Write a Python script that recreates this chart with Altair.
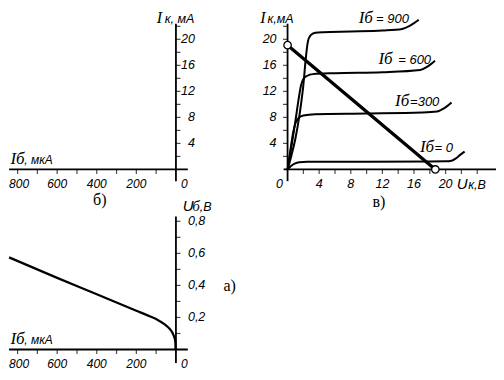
import altair as alt
import pandas as pd

# ---------------- data ----------------
# base current axis (µA), drawn right-to-left in panels б) and а)
ib_labels = [800, 600, 400, 200]
ib_ticks = [100, 200, 300, 400, 500, 600, 700, 800]
# collector current axis (mA)
ik_labels = [4, 8, 12, 16, 20]
ik_ticks = [2, 4, 6, 8, 10, 12, 14, 16, 18, 20, 22]
# collector voltage axis (V)
uk_labels = [4, 8, 12, 16, 20]
uk_ticks = [2, 4, 6, 8, 10, 12, 14, 16, 18, 20, 22, 24]
# base voltage axis (V)
ub_labels = [0.2, 0.4, 0.6, 0.8]
ub_label_text = ["0,2", "0,4", "0,6", "0,8"]
ub_ticks = [0.1, 0.2, 0.3, 0.4, 0.5, 0.6, 0.7, 0.8]

# axis line extents (data units)
ib_extent = [843, -60]
ik_extent = [-1.8, 22.4]
uk_extent = [-0.5, 26.4]
ub_extent = [-0.085, 0.83]

# output characteristics Iк(Uк) for Iб = 900, 600, 300, 0 µA
uk_900 = [0, 0.5, 1.0, 1.5, 2.0, 2.3, 2.55, 2.9, 3.5, 4.5, 8, 12, 14.5, 15.5, 16.6]
ik_900 = [0, 2.2, 4.8, 8.3, 13.0, 17.0, 19.5, 20.6, 21.0, 21.1, 21.2, 21.35, 21.6, 22.1, 23.0]
uk_600 = [0, 0.5, 1.0, 1.4, 1.7, 2.0, 2.5, 3.2, 6, 12, 16.8, 17.7, 18.66]
ik_600 = [0, 3.6, 7.5, 10.8, 12.9, 13.9, 14.4, 14.65, 14.8, 14.95, 15.3, 15.8, 16.7]
uk_300 = [0, 0.35, 0.7, 1.0, 1.4, 2.0, 3.5, 10, 17, 18.9, 19.8, 20.75]
ik_300 = [0, 2.9, 5.6, 7.1, 7.9, 8.3, 8.5, 8.6, 8.75, 8.9, 9.4, 10.3]
uk_0 = [0, 0.4, 0.9, 1.5, 2.5, 10, 20.0, 20.75, 21.3, 21.8, 22.4]
ik_0 = [0, 0.5, 0.9, 1.1, 1.17, 1.2, 1.25, 1.35, 1.7, 2.2, 2.75]

# load line with its end points
load_uk = [0, 18.7]
load_ik = [19.1, 0]

# curve labels "Iб = ..."
curve_ib = ["= 900", "= 600", "=300", "= 0"]
lab_uk = [9.0, 11.5, 13.6, 16.75]
lab_val_uk = [11.2, 14.0, 15.5, 18.6]
lab_ik = [22.5, 16.24, 9.77, 2.7]

# input characteristic Uб(Iб)
ib_in = [2, 2.5, 4, 8, 14, 24, 38, 60, 90, 130, 200, 400, 600, 843]
ub_in = [0, 0.03, 0.055, 0.075, 0.095, 0.117, 0.137, 0.16, 0.183, 0.206, 0.242, 0.345, 0.447, 0.575]

# ---------------- layout ----------------
W, H = 488, 364                 # whole canvas, fits the 504x380 page with its 8px margin
LX, RX, BY, TY = 6, 500, 379, 7  # reference-picture coordinates covered by the canvas


def make_scale(v1, p1, v2, p2, lo, hi):
    k = (v2 - v1) / (p2 - p1)
    a = v1 + (lo - p1) * k
    b = v1 + (hi - p1) * k
    return alt.Scale(domain=[min(a, b), max(a, b)], reverse=bool(a > b), nice=False, zero=False)


# panel б) : Iб (right-to-left) vs Iк
xs_b = make_scale(0, 176, 800, 15.7, LX, RX)
ys_b = make_scale(0, 172, 20, 39, BY, TY)
# panel в) : Uк vs Iк
xs_v = make_scale(0, 289, 20, 449, LX, RX)
ys_v = make_scale(0, 172, 20, 39, BY, TY)
# panel а) : Iб (right-to-left) vs Uб
xs_a = make_scale(0, 176, 800, 15.7, LX, RX)
ys_a = make_scale(0, 356, 0.8, 225, BY, TY)

SANS = "Liberation Sans"
SERIF = "Liberation Serif"


def enc(xs, ys, xf="x", yf="y"):
    return dict(x=alt.X(f"{xf}:Q", scale=xs, axis=None), y=alt.Y(f"{yf}:Q", scale=ys, axis=None))


def hrule(xs, ys, x1, x2, y, sw=1.8):
    df = pd.DataFrame({"x": [x1], "x2": [x2], "y": [y]})
    return alt.Chart(df).mark_rule(color="black", strokeWidth=sw, strokeCap="butt").encode(
        x2="x2:Q", **enc(xs, ys))


def vrule(xs, ys, x, y1, y2, sw=1.8):
    df = pd.DataFrame({"x": [x], "y": [y1], "y2": [y2]})
    return alt.Chart(df).mark_rule(color="black", strokeWidth=sw, strokeCap="butt").encode(
        y2="y2:Q", **enc(xs, ys))


def ticks(xs, ys, xv, yv, orient, xoff=0, yoff=0, size=4.5):
    df = pd.DataFrame({"x": xv, "y": yv})
    return alt.Chart(df).mark_tick(color="black", orient=orient, size=size, thickness=1.2,
                                   xOffset=xoff, yOffset=yoff).encode(**enc(xs, ys))


def texts(xs, ys, xv, yv, tv, font=SANS, size=12.5, style="italic", align="center",
          baseline="middle", dx=0, dy=0):
    df = pd.DataFrame({"x": xv, "y": yv, "t": tv})
    return alt.Chart(df).mark_text(font=font, fontSize=size, fontStyle=style, align=align,
                                   baseline=baseline, dx=dx, dy=dy, color="black").encode(
        text="t:N", **enc(xs, ys))


def line(xs, ys, xv, yv, sw=2.0, order_desc=False, interp="monotone"):
    df = pd.DataFrame({"x": xv, "y": yv})
    e = enc(xs, ys)
    if order_desc:
        e["order"] = alt.Order("x:Q", sort="descending")
    return alt.Chart(df).mark_line(color="black", strokeWidth=sw, interpolate=interp).encode(**e)


def ib_axis_labels(xs, ys, dy):
    # the leftmost label sits against the picture edge
    return [
        texts(xs, ys, ib_labels[:1], [0], [str(ib_labels[0])], size=12, dy=dy, dx=1.5),
        texts(xs, ys, ib_labels[1:], [0] * (len(ib_labels) - 1), [str(v) for v in ib_labels[1:]],
              size=12, dy=dy),
    ]


# ---------- panel б) ----------
panel_b = alt.layer(
    vrule(xs_b, ys_b, 0, ik_extent[0], ik_extent[1]),
    hrule(xs_b, ys_b, ib_extent[0], ib_extent[1], 0),
    ticks(xs_b, ys_b, [0] * len(ik_ticks), ik_ticks, "horizontal", xoff=2.3),
    ticks(xs_b, ys_b, ib_ticks, [0] * len(ib_ticks), "vertical", yoff=2.3),
    texts(xs_b, ys_b, [0] * len(ik_labels), ik_labels, [str(v) for v in ik_labels], align="right", dx=19),
    *ib_axis_labels(xs_b, ys_b, 15),
    texts(xs_b, ys_b, [0], [0], ["0"], size=12, dx=8.5, dy=15),
    texts(xs_b, ys_b, [97], [22.55], ["I"], font=SERIF, size=16, align="left", baseline="alphabetic"),
    texts(xs_b, ys_b, [57], [22.55], ["к, мА"], size=12.5, align="left", baseline="alphabetic"),
    texts(xs_b, ys_b, [836], [0.83], ["Iб"], font=SERIF, size=17, align="left", baseline="alphabetic"),
    texts(xs_b, ys_b, [766], [0.83], [", мкА"], size=12, align="left", baseline="alphabetic"),
    texts(xs_b, ys_b, [419], [-5.4], ["б)"], font=SERIF, size=16, style="normal", align="left",
          baseline="alphabetic"),
)

# ---------- panel в) ----------
out_lines = [
    line(xs_v, ys_v, uk_900, ik_900),
    line(xs_v, ys_v, uk_600, ik_600),
    line(xs_v, ys_v, uk_300, ik_300),
    line(xs_v, ys_v, uk_0, ik_0),
]
panel_v = alt.layer(
    vrule(xs_v, ys_v, 0, ik_extent[0], ik_extent[1]),
    hrule(xs_v, ys_v, uk_extent[0], uk_extent[1], 0),
    ticks(xs_v, ys_v, [0] * len(ik_ticks), ik_ticks, "horizontal", xoff=-2.3),
    ticks(xs_v, ys_v, uk_ticks, [0] * len(uk_ticks), "vertical", yoff=2.3),
    texts(xs_v, ys_v, [0] * len(ik_labels), ik_labels, [str(v) for v in ik_labels], align="right", dx=-11),
    texts(xs_v, ys_v, uk_labels, [0] * len(uk_labels), [str(v) for v in uk_labels], dy=14.5),
    texts(xs_v, ys_v, [0], [0], ["0"], dx=-8, dy=14.5),
    *out_lines,
    line(xs_v, ys_v, load_uk, load_ik, sw=3.3, interp="linear"),
    alt.Chart(pd.DataFrame({"x": load_uk, "y": load_ik})).mark_point(
        shape="circle", filled=True, fill="white", stroke="black", strokeWidth=1.3, size=55, opacity=1
    ).encode(**enc(xs_v, ys_v)),
    texts(xs_v, ys_v, lab_uk, lab_ik, ["Iб"] * 4, font=SERIF, size=17, align="left", baseline="alphabetic"),
    texts(xs_v, ys_v, lab_val_uk, lab_ik, curve_ib, size=13, align="left", baseline="alphabetic"),
    texts(xs_v, ys_v, [-3.45], [22.55], ["I"], font=SERIF, size=16, align="left", baseline="alphabetic"),
    texts(xs_v, ys_v, [-2.55], [22.55], ["к,мА"], size=12.5, align="left", baseline="alphabetic"),
    texts(xs_v, ys_v, [21.4], [-3.0], ["U"], size=15, align="left", baseline="alphabetic"),
    texts(xs_v, ys_v, [22.85], [-3.0], ["к,В"], size=12.5, align="left", baseline="alphabetic"),
    texts(xs_v, ys_v, [10.75], [-5.7], ["в)"], font=SERIF, size=16, style="normal", align="left",
          baseline="alphabetic"),
)

# ---------- panel а) ----------
panel_a = alt.layer(
    vrule(xs_a, ys_a, 0, ub_extent[0], ub_extent[1]),
    hrule(xs_a, ys_a, ib_extent[0], ib_extent[1], 0),
    ticks(xs_a, ys_a, [0] * len(ub_ticks), ub_ticks, "horizontal", xoff=2.3),
    ticks(xs_a, ys_a, ib_ticks, [0] * len(ib_ticks), "vertical", yoff=2.3),
    texts(xs_a, ys_a, [0] * len(ub_labels), ub_labels, ub_label_text, align="left", dx=12),
    *ib_axis_labels(xs_a, ys_a, 15),
    texts(xs_a, ys_a, [0], [0], ["0"], size=12, dx=8.5, dy=15),
    line(xs_a, ys_a, ib_in, ub_in, sw=2.2, order_desc=True),
    texts(xs_a, ys_a, [-35], [0.867], ["U"], size=15, align="left", baseline="alphabetic"),
    texts(xs_a, ys_a, [-82], [0.867], ["б"], font=SERIF, size=15, align="left", baseline="alphabetic"),
    texts(xs_a, ys_a, [-120], [0.867], [",В"], size=12.5, align="left", baseline="alphabetic"),
    texts(xs_a, ys_a, [836], [0.037], ["Iб"], font=SERIF, size=17, align="left", baseline="alphabetic"),
    texts(xs_a, ys_a, [766], [0.037], [", мкА"], size=12, align="left", baseline="alphabetic"),
    texts(xs_a, ys_a, [-240], [0.366], ["а)"], font=SERIF, size=16, style="normal", align="left",
          baseline="alphabetic"),
)

chart = alt.layer(panel_b, panel_v, panel_a).resolve_scale(
    x="independent", y="independent"
).properties(
    width=W, height=H, padding=0, autosize=alt.AutoSizeParams(type="none"), background="white"
).configure_view(stroke=None)

chart.save("out.html", embed_options={"renderer": "svg", "actions": False})
